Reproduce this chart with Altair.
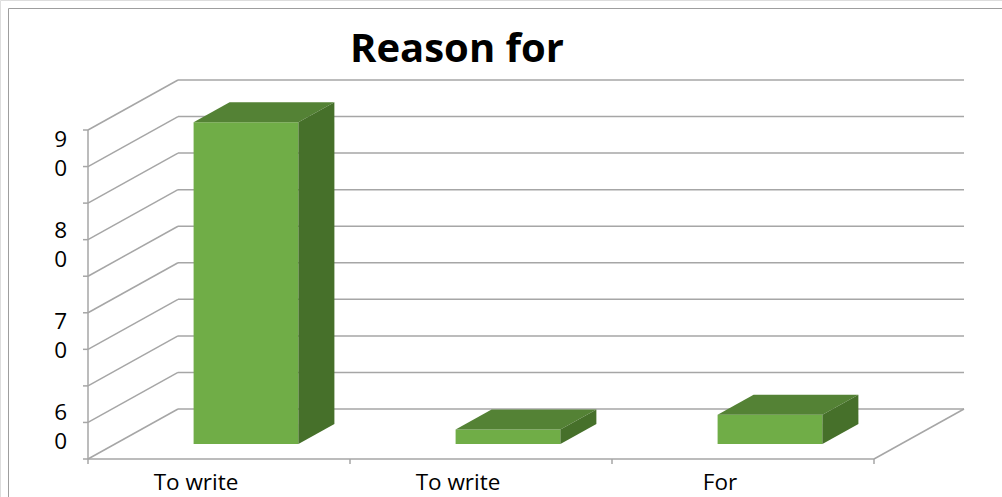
import altair as alt
import pandas as pd

# ---------------- data ----------------
categories = ["To write", "To write", "For"]
values = [88, 4, 8]
y_ticks = [0, 10, 20, 30, 40, 50, 60, 70, 80, 90]
y_tick_labels = ["60", "70", "80", "90"]
title_text = "Reason for"

# ---------------- layout / style constants ----------------
W, H = 1002, 497
X0_PX, Y0_PX = 88, 459            # front-left-bottom corner of the plot
PX_PER_CAT = 262.0
PX_PER_VAL = 329.0 / 90.0
DEPTH_X_PX, DEPTH_Y_PX = 90.0, 50.0
DX = DEPTH_X_PX / PX_PER_CAT      # depth offset in category units
DY = DEPTH_Y_PX / PX_PER_VAL      # depth offset in value units
D0, D1 = 0.3, 0.7                 # bar depth span
BAR_L, BAR_R = 0.3, 0.7           # bar span inside a category
TICK_PX = 5
GRID = "#A6A6A6"
FRONT, TOP, SIDE = "#70AD47", "#548235", "#46702A"
FONT = "Open Sans"

ncat = len(categories)
xs = alt.Scale(domain=[-X0_PX / PX_PER_CAT, (W - X0_PX) / PX_PER_CAT], nice=False, zero=False)
ys = alt.Scale(domain=[-(H - Y0_PX) / PX_PER_VAL, Y0_PX / PX_PER_VAL], nice=False, zero=False)

# label scale for the wrapped tick labels
LBL_TOP_PX, LBL_BOT_PX = 153.0, 426.0
lbl_vals = [float(v) for v in y_tick_labels]
lbl_ppu = (LBL_BOT_PX - LBL_TOP_PX) / (lbl_vals[-1] - lbl_vals[0])
ys_lbl = alt.Scale(domain=[lbl_vals[0] - (H - LBL_BOT_PX) / lbl_ppu,
                           lbl_vals[-1] + LBL_TOP_PX / lbl_ppu], nice=False, zero=False)

# ---------------- line geometry ----------------
rules = []
for v in y_ticks:
    rules.append(dict(x=0, y=v, x2=DX, y2=v + DY))                 # side diagonal
    rules.append(dict(x=DX, y=v + DY, x2=ncat + DX, y2=v + DY))    # back wall grid
    rules.append(dict(x=0, y=v, x2=-TICK_PX / PX_PER_CAT, y2=v))    # value tick
rules.append(dict(x=0, y=0, x2=ncat, y2=0))                          # floor front
rules.append(dict(x=ncat, y=0, x2=ncat + DX, y2=DY))                 # floor right
rules.append(dict(x=0, y=0, x2=0, y2=y_ticks[-1]))                   # value axis
for i in range(ncat + 1):
    rules.append(dict(x=i, y=0, x2=i, y2=-TICK_PX / PX_PER_VAL))     # category ticks
rules_df = pd.DataFrame(rules)

front_rows, top_rows, side_rows = [], [], []
for i, v in enumerate(values):
    xl, xr = i + BAR_L, i + BAR_R
    front_rows.append(dict(bar=i, x=xl + D0 * DX, x2=xr + D0 * DX, y=D0 * DY, y2=v + D0 * DY))
    for d in (D0, D1):
        top_rows.append(dict(bar=i, y=v + d * DY, xl=xl + d * DX, xr=xr + d * DX))
        side_rows.append(dict(bar=i, x=xr + d * DX, ylo=d * DY, yhi=v + d * DY))
front_df = pd.DataFrame(front_rows)
top_df = pd.DataFrame(top_rows)
side_df = pd.DataFrame(side_rows)

cat_df = pd.DataFrame(dict(x=[i + 0.5 for i in range(ncat)], label=categories))
lbl_df = pd.DataFrame(dict(v=lbl_vals, label=["\n".join(list(s)) for s in y_tick_labels]))

# ---------------- layers ----------------
border = alt.Chart(pd.DataFrame({"a": [0]})).mark_rect(
    fill=None, stroke="#9E9E9E", strokeWidth=1
).encode(x=alt.value(8.5), x2=alt.value(W + 20), y=alt.value(8.5), y2=alt.value(H + 20))

grid = alt.Chart(rules_df).mark_rule(color=GRID, strokeWidth=1.5).encode(
    x=alt.X("x:Q", scale=xs, axis=None), x2="x2:Q",
    y=alt.Y("y:Q", scale=ys, axis=None), y2="y2:Q",
)

front = alt.Chart(front_df).mark_rect(color=FRONT).encode(
    x=alt.X("x:Q", scale=xs, axis=None), x2="x2:Q",
    y=alt.Y("y:Q", scale=ys, axis=None), y2="y2:Q",
)

top = alt.Chart(top_df).mark_area(orient="horizontal", color=TOP).encode(
    y=alt.Y("y:Q", scale=ys, axis=None, stack=None),
    x=alt.X("xl:Q", scale=xs, axis=None, stack=None), x2="xr:Q",
    detail="bar:N",
)

side = alt.Chart(side_df).mark_area(orient="vertical", color=SIDE).encode(
    x=alt.X("x:Q", scale=xs, axis=None, stack=None),
    y=alt.Y("ylo:Q", scale=ys, axis=None, stack=None), y2="yhi:Q",
    detail="bar:N",
)

cat_labels = alt.Chart(cat_df).mark_text(
    font=FONT, fontSize=22.5, color="#000000", align="center", baseline="alphabetic", dx=-23
).encode(
    x=alt.X("x:Q", scale=xs, axis=None),
    y=alt.value(490),
    text="label:N",
)

val_labels = alt.Chart(lbl_df).mark_text(
    font=FONT, fontSize=22.5, color="#000000", align="right", baseline="middle",
    lineBreak="\n", lineHeight=29, dy=-13,
).encode(
    x=alt.value(67),
    y=alt.Y("v:Q", scale=ys_lbl, axis=None),
    text="label:N",
)

title = alt.Chart(pd.DataFrame({"t": [title_text]})).mark_text(
    font=FONT, fontSize=40, fontWeight="bold", color="#000000", align="center", baseline="alphabetic"
).encode(x=alt.value(457), y=alt.value(62), text="t:N")

chart = alt.layer(
    border, grid, front, top, side, cat_labels, val_labels, title
).resolve_scale(y="independent").properties(
    width=W, height=H, padding=0, autosize=alt.AutoSizeParams(type="none")
).configure_view(stroke=None).configure(background="white")

chart.save("out.html", embed_options={"renderer": "svg", "actions": False})
